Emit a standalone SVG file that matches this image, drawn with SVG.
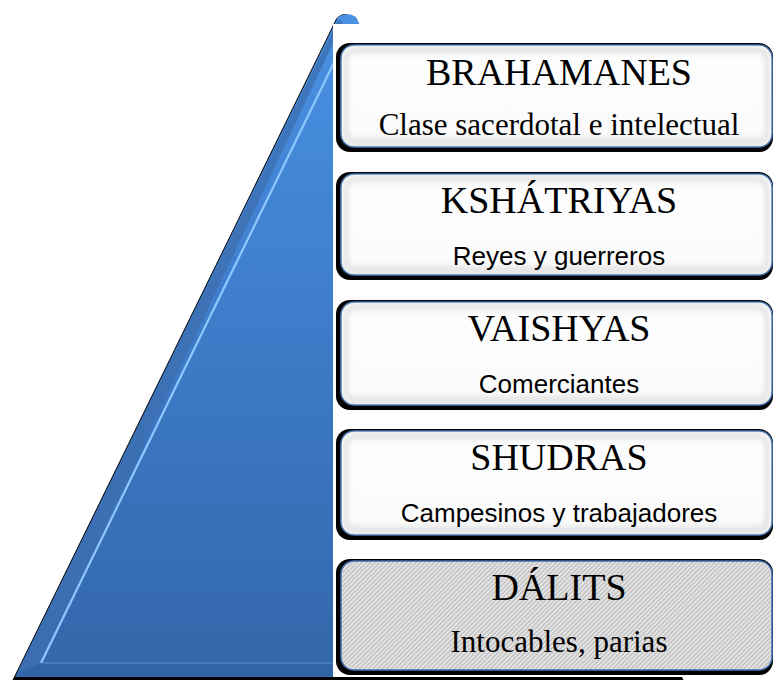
<svg xmlns="http://www.w3.org/2000/svg" width="774" height="680" viewBox="0 0 774 680">
  <defs>
    <linearGradient id="triFill" x1="0" y1="0" x2="0" y2="680" gradientUnits="userSpaceOnUse">
      <stop offset="0" stop-color="#4b93e3"/>
      <stop offset="0.3" stop-color="#4284d4"/>
      <stop offset="1" stop-color="#3366aa"/>
    </linearGradient>
    <linearGradient id="boxFill" x1="0" y1="0" x2="0" y2="1">
      <stop offset="0" stop-color="#f4f4f4"/>
      <stop offset="0.15" stop-color="#fdfdfd"/>
      <stop offset="0.85" stop-color="#fbfbfb"/>
      <stop offset="1" stop-color="#ececec"/>
    </linearGradient>
    <pattern id="hatch" patternUnits="userSpaceOnUse" width="3.2" height="3.2" patternTransform="rotate(45)">
      <rect width="3.2" height="3.2" fill="#e4e4e4"/>
      <rect width="1.2" height="3.2" fill="#bcbcbc"/>
    </pattern>
    <filter id="soft" x="-5%" y="-5%" width="110%" height="110%">
      <feGaussianBlur stdDeviation="0.5"/>
    </filter>
    <filter id="inner" x="-5%" y="-5%" width="110%" height="110%">
      <feGaussianBlur stdDeviation="2"/>
    </filter>
  </defs>
  <style>
    .shadow { fill: #000000; filter: url(#soft); }
    .box { fill: url(#boxFill); stroke: #3f6fb0; stroke-width: 1.5; }
    .bevel { fill: none; stroke: #e4e4e4; stroke-width: 5; filter: url(#inner); }
    .title { font-family: "Liberation Serif", "Times New Roman", serif; font-size: 38px; fill: #000000; text-anchor: middle; }
    .subserif { font-family: "Liberation Serif", "Times New Roman", serif; font-size: 31px; fill: #000000; text-anchor: middle; }
    .subsans { font-family: "Liberation Sans", Arial, sans-serif; font-size: 26px; fill: #000000; text-anchor: middle; }
  </style>

  <rect width="774" height="680" fill="#ffffff"/>

  <g id="pyramid">
    <path d="M12,681 L336,19 Q345,9 354,19 L684,681 Z" fill="#000000"/>
    <path d="M15,677 L338,17 Q347,11 356,17 L679,677 Z" fill="url(#triFill)"/>
    <path d="M17,673 L338,20 L343,22 L41,663 Z" fill="#3d6fb2" opacity="0.8"/>
    <path d="M41,663 L345,40" stroke="#8fc8ff" stroke-width="2.2" fill="none"/>
    <path d="M41,663 L340,663 L340,676 L18,676 Z" fill="#2f62a4" opacity="0.6"/>
    <path d="M41,663 L340,663" stroke="#5a8fd0" stroke-width="1" fill="none"/>
    <rect x="333" y="24" width="441" height="653" fill="#ffffff"/>
  </g>

  <g id="connectors"></g>

  <g id="node-brahamanes">
    <rect class="shadow" x="336" y="43" width="437" height="109" rx="14"/>
    <rect class="box" x="341" y="45" width="431" height="102" rx="13"/>
    <rect class="bevel" x="346" y="50" width="421" height="92" rx="10"/>
    <text class="title" x="559" y="85">BRAHAMANES</text>
    <text class="subserif" x="559" y="135">Clase sacerdotal e intelectual</text>
  </g>

  <g id="node-kshatriyas">
    <rect class="shadow" x="336" y="172" width="437" height="108" rx="14"/>
    <rect class="box" x="341" y="174" width="431" height="101" rx="13"/>
    <rect class="bevel" x="346" y="179" width="421" height="91" rx="10"/>
    <text class="title" x="559" y="213">KSHÁTRIYAS</text>
    <text class="subsans" x="559" y="265">Reyes y guerreros</text>
  </g>

  <g id="node-vaishyas">
    <rect class="shadow" x="336" y="300" width="437" height="110" rx="14"/>
    <rect class="box" x="341" y="302" width="431" height="103" rx="13"/>
    <rect class="bevel" x="346" y="307" width="421" height="93" rx="10"/>
    <text class="title" x="559" y="341">VAISHYAS</text>
    <text class="subsans" x="559" y="393">Comerciantes</text>
  </g>

  <g id="node-shudras">
    <rect class="shadow" x="336" y="429" width="437" height="111" rx="14"/>
    <rect class="box" x="341" y="431" width="431" height="104" rx="13"/>
    <rect class="bevel" x="346" y="436" width="421" height="94" rx="10"/>
    <text class="title" x="559" y="470">SHUDRAS</text>
    <text class="subsans" x="559" y="522">Campesinos y trabajadores</text>
  </g>

  <g id="node-dalits">
    <rect class="shadow" x="336" y="559" width="437" height="116" rx="14"/>
    <rect x="341" y="561" width="431" height="109" rx="13" fill="url(#hatch)" stroke="#3f6fb0" stroke-width="1.5"/>
    <text class="title" x="559" y="600">DÁLITS</text>
    <text class="subserif" x="559" y="652">Intocables, parias</text>
  </g>
</svg>
